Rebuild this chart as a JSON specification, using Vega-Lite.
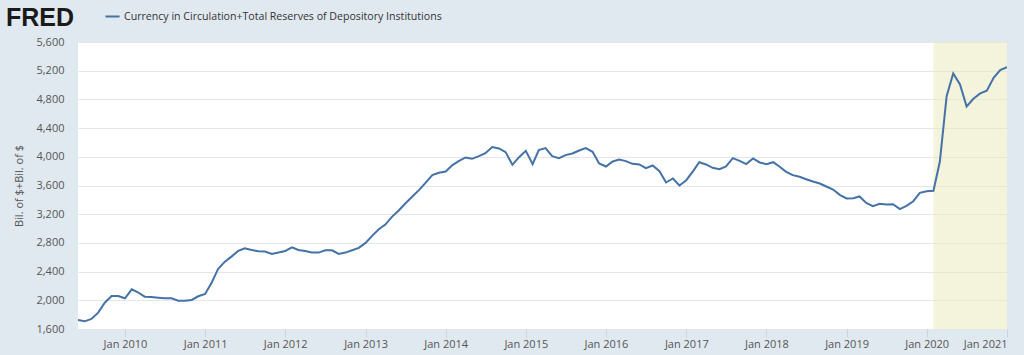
{
"$schema":"https://vega.github.io/schema/vega-lite/v6.json",
"width":929,"height":287,
"autosize":{"type":"none"},
"padding":{"left":78,"top":42,"right":17,"bottom":26},
"background":"#e1e9f0",
"title":{"text":"FRED","anchor":"start","frame":"group","dx":-72,"dy":23,"offset":0,"font":"Liberation Sans","fontSize":25,"fontWeight":"bold","color":"#1a1a1a"},
"view":{"fill":"#ffffff","stroke":null},
"datasets":{
"band":[{"start":"2020-02-01","end":"2021-01-01"}],
"series":[
{"d":"2009-06-01","v":1725},{"d":"2009-07-01","v":1707},{"d":"2009-08-01","v":1740},{"d":"2009-09-01","v":1828},{"d":"2009-10-01","v":1967},{"d":"2009-11-01","v":2060},{"d":"2009-12-01","v":2060},
{"d":"2010-01-01","v":2028},{"d":"2010-02-01","v":2153},{"d":"2010-03-01","v":2112},{"d":"2010-04-01","v":2051},{"d":"2010-05-01","v":2046},{"d":"2010-06-01","v":2037},{"d":"2010-07-01","v":2028},{"d":"2010-08-01","v":2028},{"d":"2010-09-01","v":1995},{"d":"2010-10-01","v":1995},{"d":"2010-11-01","v":2005},{"d":"2010-12-01","v":2056},
{"d":"2011-01-01","v":2088},{"d":"2011-02-01","v":2251},{"d":"2011-03-01","v":2437},{"d":"2011-04-01","v":2539},{"d":"2011-05-01","v":2609},{"d":"2011-06-01","v":2688},{"d":"2011-07-01","v":2725},{"d":"2011-08-01","v":2702},{"d":"2011-09-01","v":2683},{"d":"2011-10-01","v":2679},{"d":"2011-11-01","v":2646},{"d":"2011-12-01","v":2665},
{"d":"2012-01-01","v":2688},{"d":"2012-02-01","v":2739},{"d":"2012-03-01","v":2702},{"d":"2012-04-01","v":2688},{"d":"2012-05-01","v":2665},{"d":"2012-06-01","v":2665},{"d":"2012-07-01","v":2697},{"d":"2012-08-01","v":2697},{"d":"2012-09-01","v":2646},{"d":"2012-10-01","v":2665},{"d":"2012-11-01","v":2698},{"d":"2012-12-01","v":2730},
{"d":"2013-01-01","v":2800},{"d":"2013-02-01","v":2902},{"d":"2013-03-01","v":2986},{"d":"2013-04-01","v":3056},{"d":"2013-05-01","v":3163},{"d":"2013-06-01","v":3251},{"d":"2013-07-01","v":3349},{"d":"2013-08-01","v":3442},{"d":"2013-09-01","v":3535},{"d":"2013-10-01","v":3637},{"d":"2013-11-01","v":3744},{"d":"2013-12-01","v":3777},
{"d":"2014-01-01","v":3795},{"d":"2014-02-01","v":3884},{"d":"2014-03-01","v":3940},{"d":"2014-04-01","v":3991},{"d":"2014-05-01","v":3972},{"d":"2014-06-01","v":4009},{"d":"2014-07-01","v":4051},{"d":"2014-08-01","v":4135},{"d":"2014-09-01","v":4116},{"d":"2014-10-01","v":4065},{"d":"2014-11-01","v":3888},{"d":"2014-12-01","v":3995},
{"d":"2015-01-01","v":4084},{"d":"2015-02-01","v":3898},{"d":"2015-03-01","v":4093},{"d":"2015-04-01","v":4121},{"d":"2015-05-01","v":4009},{"d":"2015-06-01","v":3981},{"d":"2015-07-01","v":4023},{"d":"2015-08-01","v":4046},{"d":"2015-09-01","v":4088},{"d":"2015-10-01","v":4121},{"d":"2015-11-01","v":4070},{"d":"2015-12-01","v":3907},
{"d":"2016-01-01","v":3865},{"d":"2016-02-01","v":3935},{"d":"2016-03-01","v":3963},{"d":"2016-04-01","v":3940},{"d":"2016-05-01","v":3902},{"d":"2016-06-01","v":3893},{"d":"2016-07-01","v":3842},{"d":"2016-08-01","v":3879},{"d":"2016-09-01","v":3800},{"d":"2016-10-01","v":3642},{"d":"2016-11-01","v":3698},{"d":"2016-12-01","v":3600},
{"d":"2017-01-01","v":3674},{"d":"2017-02-01","v":3800},{"d":"2017-03-01","v":3925},{"d":"2017-04-01","v":3893},{"d":"2017-05-01","v":3846},{"d":"2017-06-01","v":3828},{"d":"2017-07-01","v":3865},{"d":"2017-08-01","v":3981},{"d":"2017-09-01","v":3944},{"d":"2017-10-01","v":3898},{"d":"2017-11-01","v":3977},{"d":"2017-12-01","v":3921},
{"d":"2018-01-01","v":3898},{"d":"2018-02-01","v":3925},{"d":"2018-03-01","v":3865},{"d":"2018-04-01","v":3791},{"d":"2018-05-01","v":3744},{"d":"2018-06-01","v":3721},{"d":"2018-07-01","v":3688},{"d":"2018-08-01","v":3656},{"d":"2018-09-01","v":3628},{"d":"2018-10-01","v":3586},{"d":"2018-11-01","v":3544},{"d":"2018-12-01","v":3470},
{"d":"2019-01-01","v":3419},{"d":"2019-02-01","v":3423},{"d":"2019-03-01","v":3447},{"d":"2019-04-01","v":3358},{"d":"2019-05-01","v":3312},{"d":"2019-06-01","v":3344},{"d":"2019-07-01","v":3335},{"d":"2019-08-01","v":3340},{"d":"2019-09-01","v":3270},{"d":"2019-10-01","v":3316},{"d":"2019-11-01","v":3381},{"d":"2019-12-01","v":3498},
{"d":"2020-01-01","v":3521},{"d":"2020-02-01","v":3526},{"d":"2020-03-01","v":3930},{"d":"2020-04-01","v":4846},{"d":"2020-05-01","v":5162},{"d":"2020-06-01","v":5009},{"d":"2020-07-01","v":4702},{"d":"2020-08-01","v":4809},{"d":"2020-09-01","v":4883},{"d":"2020-10-01","v":4921},{"d":"2020-11-01","v":5102},{"d":"2020-12-01","v":5209},
{"d":"2021-01-01","v":5251}
]},
"layer":[
{"data":{"name":"band"},
 "mark":{"type":"rect","color":"#e9e7b9","opacity":0.5},
 "encoding":{
  "x":{"field":"start","type":"temporal","scale":{"domain":["2009-06-01","2021-01-01"]},"title":null,
   "axis":{"grid":false,"format":"%b %Y","values":["2010-01-01","2011-01-01","2012-01-01","2013-01-01","2014-01-01","2015-01-01","2016-01-01","2017-01-01","2018-01-01","2019-01-01","2020-01-01","2021-01-01"],"labelFont":"Open Sans","labelFontSize":11,"labelColor":"#555555","domain":false,"tickColor":"#c6d3e0","tickSize":8,"labelPadding":1,"labelOverlap":false,"labelBound":false,"labelFlush":true}},
  "x2":{"field":"end"}
 }},
{"data":{"name":"series"},
 "mark":{"type":"line","strokeWidth":2,"interpolate":"linear","clip":true},
 "encoding":{
  "x":{"field":"d","type":"temporal"},
  "y":{"field":"v","type":"quantitative","scale":{"domain":[1600,5600],"nice":false},"title":"Bil. of $+Bil. of $",
   "axis":{"values":[1600,2000,2400,2800,3200,3600,4000,4400,4800,5200,5600],"format":",d","grid":true,"gridColor":"#e6e6e6","gridWidth":1,"domain":false,"ticks":false,"labelPadding":14,"labelFont":"Open Sans","labelFontSize":11,"labelColor":"#555555","titleFont":"Open Sans","titleFontSize":11,"titleFontWeight":"normal","titleColor":"#555555","titlePadding":11}},
  "color":{"datum":"Currency in Circulation+Total Reserves of Depository Institutions","scale":{"range":["#4572a7"]},
   "legend":{"title":null,"orient":"none","legendX":26,"legendY":-34,"symbolType":"stroke","symbolSize":200,"symbolStrokeWidth":2,"labelFont":"Open Sans","labelFontSize":10.6,"labelColor":"#333333","labelLimit":500,"labelOffset":3}}
 }}
]
}
